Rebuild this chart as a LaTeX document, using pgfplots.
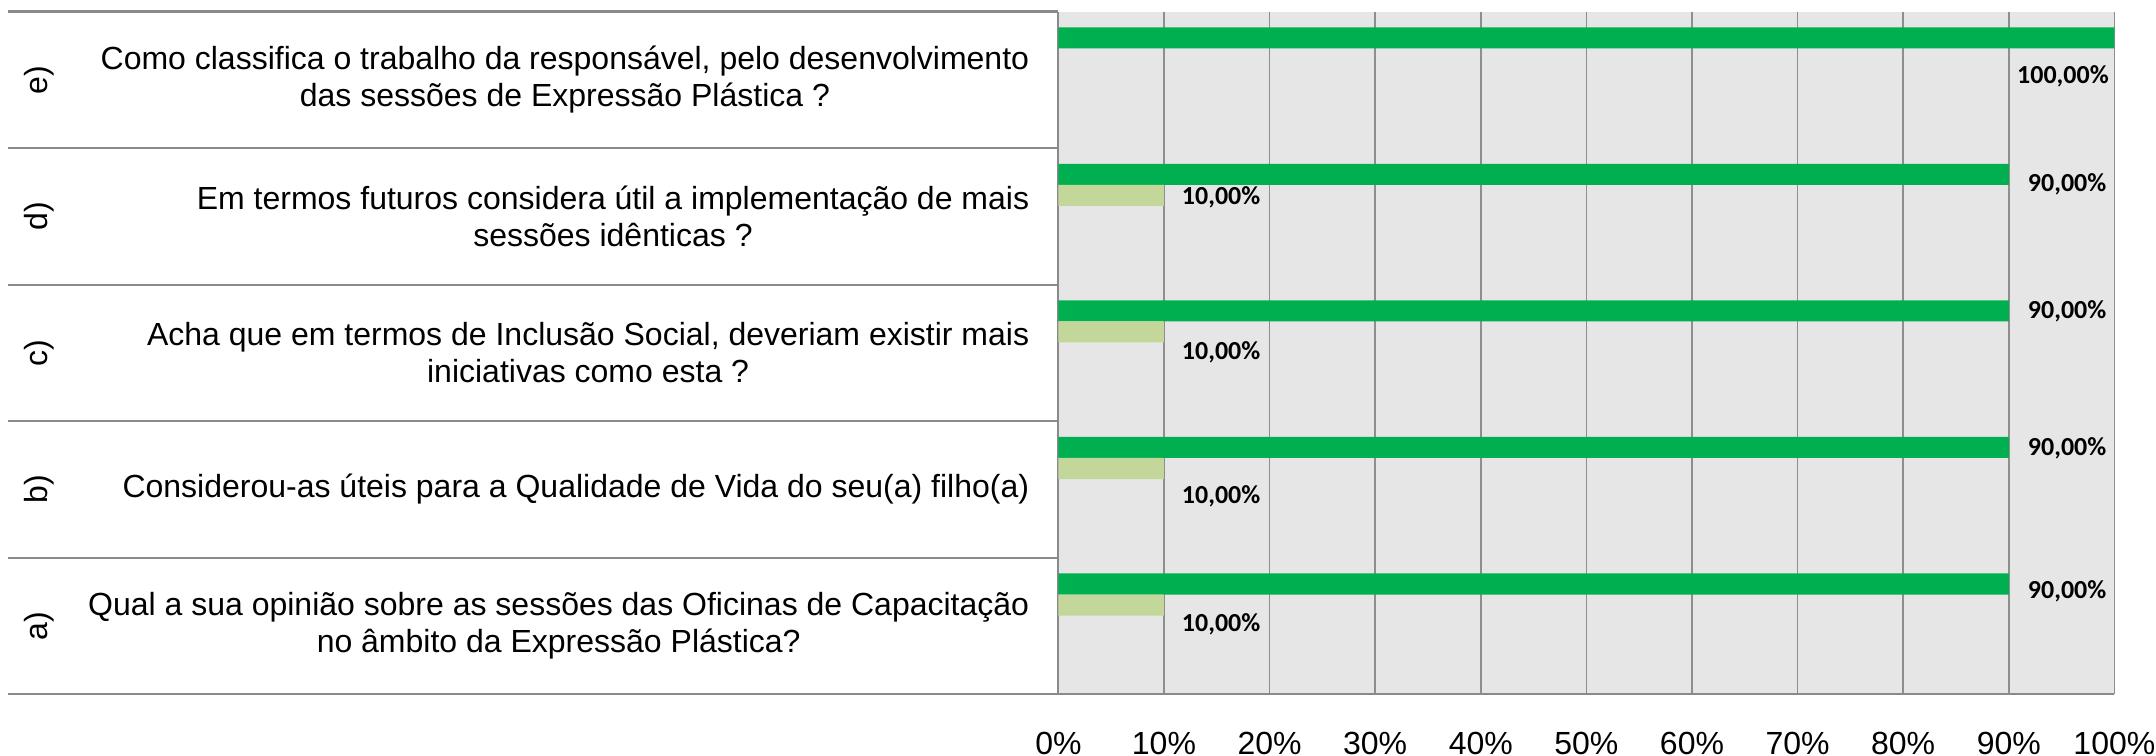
\documentclass[border=0pt]{standalone}
\usepackage{pgfplots}
\usepackage{pgfplotstable}
\pgfplotsset{compat=1.18}
\usepackage{fontspec}
\setmainfont{Liberation Sans}
\newfontfamily\carlito{Carlito}
\definecolor{dkgreen}{HTML}{00B050}
\definecolor{ltgreen}{HTML}{C4D79B}
\definecolor{bggray}{HTML}{E6E6E6}
\definecolor{gridgray}{HTML}{8E8E8E}
\definecolor{tablegray}{HTML}{8A8A8A}

\pgfplotstableread{
y x xs ys
4.808 100 -24.5 -9.65
3.808 90 4.6 -2.4
2.808 90 4.6 0
1.808 90 4.6 -0.25
0.808 90 4.6 -1.9
}\darktable
\pgfplotstableread{
y x xs ys
3.654 10 4.3 -0.4
2.654 10 4.3 -5
1.654 10 4.3 -7
0.654 10 4.3 -4.75
}\lighttable

\begin{document}
\begin{tikzpicture}
\useasboundingbox (-264.6pt,-15.18pt) rectangle (274.4pt,173.575pt);
\begin{axis}[
  at={(0,0)}, anchor=south west,
  scale only axis, width=264pt, height=170.65pt,
  xmin=0, xmax=100, ymin=0, ymax=5,
  clip=false,
  axis x line*=bottom, axis y line*=left,
  /pgf/number format/assume math mode=true,
  axis background/.style={fill=bggray},
  axis line style={draw=tablegray, line width=0.45pt},
  xmajorgrids, grid style={draw=gridgray, line width=0.4pt},
  major tick length=0pt,
  xtick={0,10,20,30,40,50,60,70,80,90,100},
  xticklabels={0\%,10\%,20\%,30\%,40\%,50\%,60\%,70\%,80\%,90\%,100\%},
  xticklabel style={anchor=center, inner sep=0pt, yshift=-12.2pt, font=\fontsize{8}{9.25}\selectfont},
  ytick={0.5,1.5,2.5,3.5,4.5},
  yticklabels={
    {Qual a sua opinião sobre as sessões das Oficinas de Capacitação\\no âmbito da Expressão Plástica?},
    {Considerou-as úteis para a Qualidade de Vida do seu(a) filho(a)},
    {Acha que em termos de Inclusão Social, deveriam existir mais\\iniciativas como esta ?},
    {Em termos futuros considera útil a implementação de mais\\sessões idênticas ?},
    {Como classifica o trabalho da responsável, pelo desenvolvimento\\das sessões de Expressão Plástica ?}},
  yticklabel style={anchor=east, align=center, inner sep=0pt, xshift=-7.1pt, font=\fontsize{8}{9.25}\selectfont},
  xbar,
  every axis plot/.append style={bar shift=0pt},
]
\addplot[xbar, bar shift=0pt, bar width=0.154, fill=dkgreen, draw=none,
  point meta=x,
  visualization depends on={\thisrow{xs}\as\xs},
  visualization depends on={\thisrow{ys}\as\ys},
  nodes near coords={\pgfmathprintnumber[fixed,fixed zerofill,precision=2,use comma]{\pgfplotspointmeta}\%},
  every node near coord/.append style={anchor=west, inner sep=0pt, xshift=\xs pt, yshift=\ys pt, text=black, font=\carlito\bfseries\fontsize{6.5}{7}\selectfont}]
  table[x=x,y=y]{\darktable};
\addplot[xbar, bar shift=0pt, bar width=0.154, fill=ltgreen, draw=none,
  point meta=x,
  visualization depends on={\thisrow{xs}\as\xs},
  visualization depends on={\thisrow{ys}\as\ys},
  nodes near coords={\pgfmathprintnumber[fixed,fixed zerofill,precision=2,use comma]{\pgfplotspointmeta}\%},
  every node near coord/.append style={anchor=west, inner sep=0pt, xshift=\xs pt, yshift=\ys pt, text=black, font=\carlito\bfseries\fontsize{6.5}{7}\selectfont}]
  table[x=x,y=y]{\lighttable};
\end{axis}
\foreach \k in {0,...,5}{
  \draw[tablegray, line width=0.6pt] (-262.6pt,{\k*34.13pt}) -- (0pt,{\k*34.13pt});
}
\foreach \k/\lab in {0/a),1/b),2/c),3/d),4/e)}{
  \node[rotate=90, inner sep=0pt, font=\fontsize{8}{9.25}\selectfont] at (-254.9pt,{(\k+0.5)*34.13pt}) {\lab};
}
\end{tikzpicture}
\end{document}
